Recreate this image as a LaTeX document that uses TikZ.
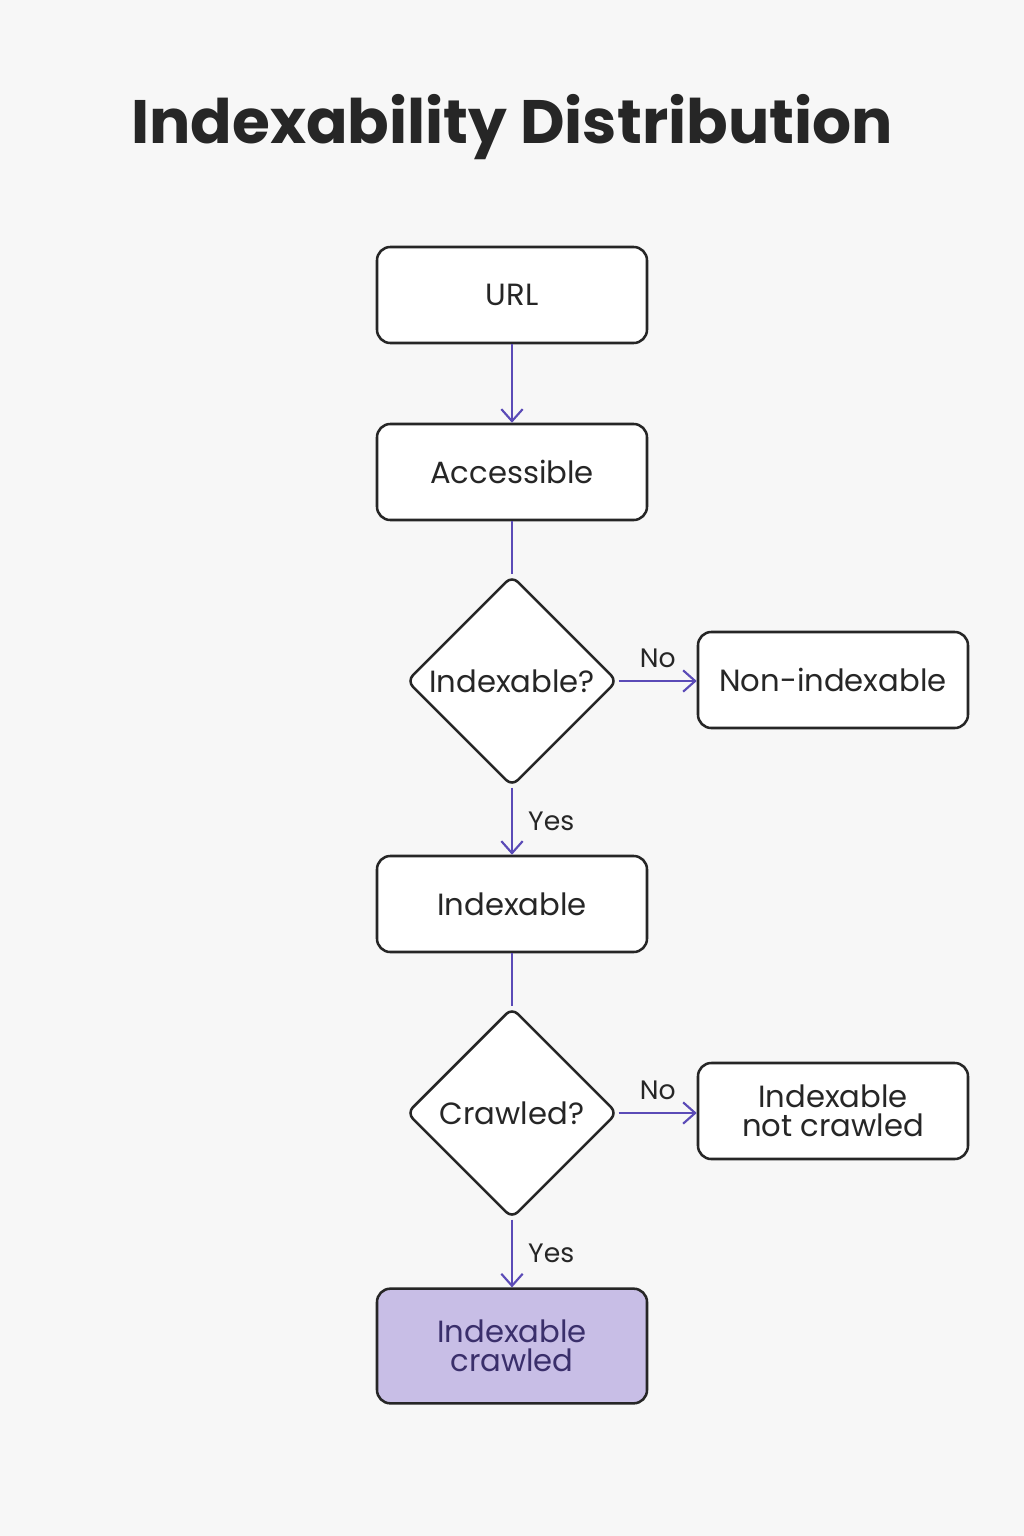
\documentclass[tikz,border=0pt]{standalone}
\usepackage{fontspec}
\setmainfont{Poppins}
\usetikzlibrary{shapes.geometric,arrows.meta}
\definecolor{arr}{HTML}{5B4BB7}
\definecolor{lav}{HTML}{C8BEE6}
\definecolor{dtext}{HTML}{3A2F6B}
\begin{document}
\begin{tikzpicture}[x=0.75pt,y=-0.75pt,
 box/.style={draw=black!85,line width=1.9pt,rounded corners=10pt,minimum width=202.5pt,minimum height=72pt,align=center,font=\fontsize{23}{25}\selectfont,text=black!85,fill=white},
 dia/.style={draw=black!85,line width=1.9pt,diamond,rounded corners=6pt,minimum width=158pt,minimum height=158pt,inner sep=0pt,font=\fontsize{23}{25}\selectfont,text=black!85,fill=white},
 ar/.style={draw=arr,line width=1.6pt,-{Straight Barb[length=9pt,width=16pt]}},
 ln/.style={draw=arr,line width=1.6pt},
 lab/.style={font=\fontsize{20}{22}\selectfont,text=black!85}]
\fill[white!97!black] (0,0) rectangle (1024,1536);
\node[font=\fontsize{46}{50}\selectfont\bfseries,text=black!85] (t) at (512,127) {Indexability Distribution};
\node[box] (url) at (512,295) {URL};
\node[box] (acc) at (512,472) {Accessible};
\node[dia] (d1) at (512,681) {Indexable?};
\node[box] (non) at (833,680) {Non-indexable};
\node[box] (idx) at (512,904) {Indexable};
\node[dia] (d2) at (512,1113) {Crawled?};
\node[box] (inc) at (833,1111) {Indexable\\[-3pt]not crawled};
\node[box,fill=lav,text=dtext,minimum height=86pt] (ic) at (512,1346) {Indexable\\[-3pt]crawled};
\draw[ar] (d1.east) -- (non.west|-d1.east) node[lab,midway,above=6pt] (n1) {No};
\draw[ar] (url) -- (acc);
\draw[ln] (acc) -- (d1);
\draw[ar] (d1.south) -- (idx.north) node[lab,midway,right=8pt] (y1) {Yes};
\draw[ln] (idx) -- (d2);
\draw[ar] (d2.east) -- (inc.west|-d2.east) node[lab,midway,above=6pt] (n2) {No};
\draw[ar] (d2.south) -- (ic.north) node[lab,midway,right=8pt] (y2) {Yes};
\end{tikzpicture}
\end{document}
